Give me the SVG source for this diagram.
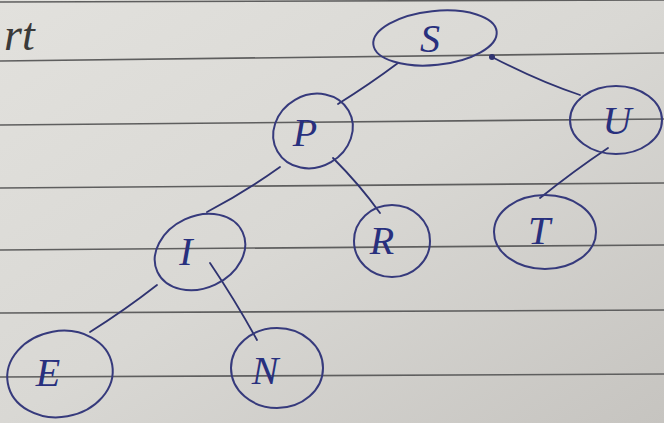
<svg xmlns="http://www.w3.org/2000/svg" width="664" height="423" viewBox="0 0 664 423">
  <defs>
    <linearGradient id="paper" x1="0" y1="0" x2="1" y2="1">
      <stop offset="0" stop-color="#e2e1dd"/>
      <stop offset="0.5" stop-color="#d9d8d4"/>
      <stop offset="1" stop-color="#c6c4c0"/>
    </linearGradient>
    <style>
      .rule { stroke: #5e5e5e; stroke-width: 1.6; fill: none; }
      .node { fill: none; stroke: #363a7c; stroke-width: 2; }
      .edge { stroke: #2f3370; stroke-width: 1.8; fill: none; stroke-linecap: round; }
      .letter { font-family: "Liberation Serif", serif; font-style: italic; font-size: 40px; fill: #28307e; text-anchor: middle; dominant-baseline: central; }
      .pencil { font-family: "Liberation Serif", serif; font-style: italic; font-size: 46px; fill: #3a3a3a; }
    </style>
  </defs>

  <!-- paper and ruled lines -->
  <rect width="664" height="423" fill="url(#paper)"/>
  <g id="rules">
    <line class="rule" x1="0" y1="2" x2="664" y2="0"/>
    <line class="rule" x1="0" y1="61" x2="664" y2="53"/>
    <line class="rule" x1="0" y1="125" x2="664" y2="119"/>
    <line class="rule" x1="0" y1="188" x2="664" y2="183"/>
    <line class="rule" x1="0" y1="250" x2="664" y2="245"/>
    <line class="rule" x1="0" y1="313" x2="664" y2="310"/>
    <line class="rule" x1="0" y1="377" x2="664" y2="374"/>
  </g>

  <!-- pencil heading fragment -->
  <text class="pencil" x="4" y="50">rt</text>

  <!-- connectors -->
  <g id="connectors">
    <path class="edge" d="M398 63 Q370 84 338 104"/>
    <path class="edge" d="M492 57 Q540 82 580 95"/>
    <circle cx="492" cy="57" r="3" fill="#2f3370"/>
    <path class="edge" d="M280 167 Q245 192 207 212"/>
    <path class="edge" d="M333 158 Q360 185 380 213"/>
    <path class="edge" d="M157 285 Q125 310 90 332"/>
    <path class="edge" d="M210 263 Q235 300 257 340"/>
    <path class="edge" d="M608 148 Q575 170 540 198"/>
  </g>

  <!-- nodes -->
  <g id="node-S">
    <ellipse class="node" cx="435" cy="38" rx="62" ry="27" transform="rotate(-6 435 38)"/>
    <text class="letter" x="430" y="38">S</text>
  </g>
  <g id="node-P">
    <ellipse class="node" cx="313" cy="131" rx="41" ry="36" transform="rotate(-30 313 131)"/>
    <text class="letter" x="305" y="132">P</text>
  </g>
  <g id="node-U">
    <ellipse class="node" cx="616" cy="120" rx="46" ry="34"/>
    <text class="letter" x="617" y="120">U</text>
  </g>
  <g id="node-I">
    <ellipse class="node" cx="200" cy="252" rx="47" ry="36" transform="rotate(-25 200 252)"/>
    <text class="letter" x="186" y="251">I</text>
  </g>
  <g id="node-R">
    <ellipse class="node" cx="392" cy="241" rx="38" ry="36"/>
    <text class="letter" x="382" y="240">R</text>
  </g>
  <g id="node-T">
    <ellipse class="node" cx="545" cy="232" rx="51" ry="37"/>
    <text class="letter" x="539" y="230">T</text>
  </g>
  <g id="node-E">
    <ellipse class="node" cx="60" cy="374" rx="53" ry="43" transform="rotate(-10 60 374)"/>
    <text class="letter" x="48" y="372">E</text>
  </g>
  <g id="node-N">
    <ellipse class="node" cx="277" cy="368" rx="46" ry="40"/>
    <text class="letter" x="265" y="370">N</text>
  </g>
</svg>
